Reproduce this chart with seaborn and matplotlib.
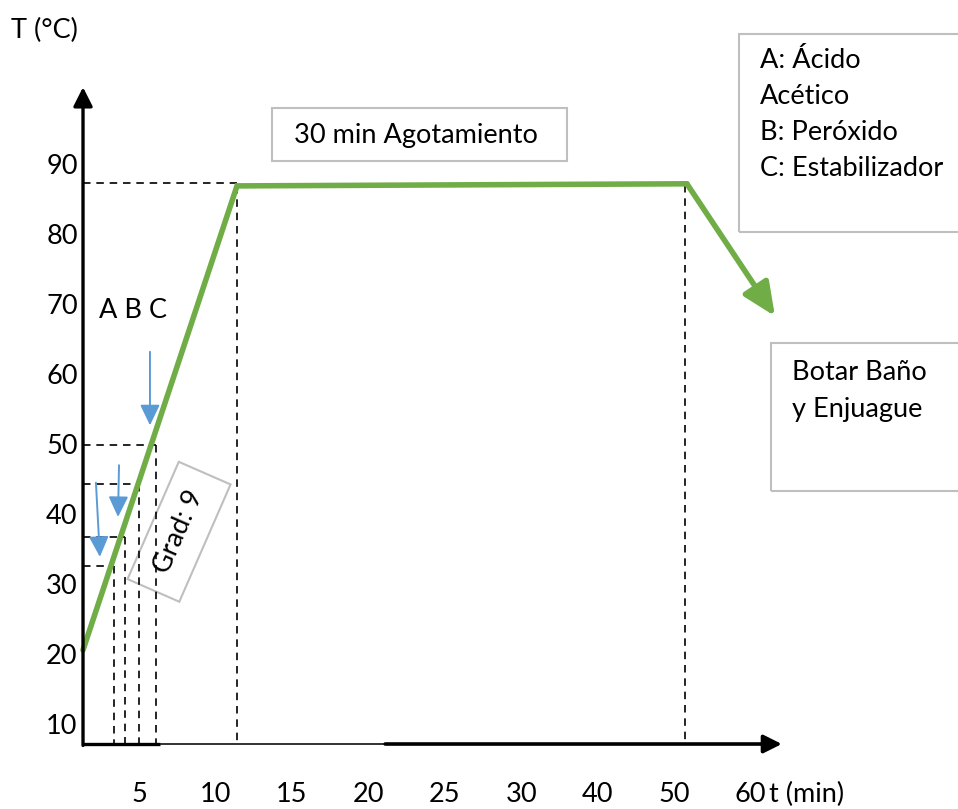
import matplotlib
matplotlib.use("Agg")
import matplotlib.pyplot as plt
import matplotlib.transforms as mtransforms
from matplotlib.patches import Rectangle
import seaborn as sns
import pandas as pd

# ---- data -------------------------------------------------------------
# x positions are expressed in "tick slots": slot i sits under the i-th time label
time_labels = ["5", "10", "15", "20", "25", "30", "40", "50", "60"]
temp_labels = [10, 20, 30, 40, 50, 60, 70, 80, 90]

# bath temperature profile (slot, °C); last point is the drain arrow tip
profile_slot = [0.237, 2.252, 8.138, 9.29]
profile_temp = [21.0, 87.3, 87.6, 68.7]

# dosing of A, B, C during the heating ramp
dose_slot = [0.64, 0.78, 0.97, 1.19]
dose_temp = [33.0, 37.1, 44.7, 50.3]

# blue dosing arrows: start/end (slot, °C)
arrow_x0 = [1.113, 0.708, 0.406]
arrow_t0 = [63.6, 47.4, 44.9]
arrow_x1 = [1.113, 0.695, 0.458]
arrow_t1 = [53.1, 40.0, 34.3]

GREEN = "#70AD47"
BLUE = "#5B9BD5"
BOX = "#BFBFBF"
FS = 19.5

sns.set_theme(style="white")
plt.rcParams["font.family"] = ["Lato", "DejaVu Sans"]

W, H = 958, 809
fig = plt.figure(figsize=(W / 100, H / 100), dpi=100)
ax = fig.add_axes([0, 0, 1, 1])
ax.set_axis_off()

# scale: 76.43 px per slot (slot 0 at px 64.9), 7 px per °C (10 °C at px 727)
ax.set_xlim(-64.9 / 76.43, (W - 64.9) / 76.43)
ax.set_ylim(10 - (H - 727) / 7, 10 + 727 / 7)

x0 = profile_slot[0]
t_axis = 7.57

# ---- axes drawn as arrows --------------------------------------------
ax.annotate("", xy=(x0, 101.4), xytext=(x0, t_axis - 0.2),
            arrowprops=dict(arrowstyle="-|>,head_length=1.15,head_width=0.58",
                            mutation_scale=10, lw=2.4, color="black",
                            shrinkA=0, shrinkB=0))
ax.plot([x0, 1.244], [t_axis, t_axis], color="black", lw=2.4,
        solid_capstyle="butt")
ax.plot([1.244, 4.19], [t_axis, t_axis], color="#222222", lw=1.3,
        solid_capstyle="butt")
ax.annotate("", xy=(9.38, t_axis), xytext=(4.19, t_axis),
            arrowprops=dict(arrowstyle="-|>,head_length=1.1,head_width=0.55",
                            mutation_scale=10, lw=2.6, color="black",
                            shrinkA=0, shrinkB=0))

# ---- tick labels ------------------------------------------------------
for t in temp_labels:
    ax.text(x0 - 0.07, t, str(t), ha="right", va="center", fontsize=FS,
            color="black")
for i, lab in enumerate(time_labels, start=1):
    ax.text(i - 0.03, 0.3, lab, ha="center", va="center", fontsize=FS,
            color="black")
ax.text(9.21, 0.3, "t (min)", ha="left", va="center", fontsize=FS,
        color="black")
ax.text(0.012, 1 - 30 / H, "T (°C)", transform=ax.transAxes, ha="left",
        va="center", fontsize=FS, color="black")

# ---- dashed guide lines -----------------------------------------------
dash = dict(color="black", lw=1.2, linestyle=(0, (4.5, 3.5)))
for xs, ts in zip(dose_slot, dose_temp):
    ax.plot([x0, xs], [ts, ts], **dash)
    ax.plot([xs, xs], [ts, t_axis], **dash)
ax.plot([x0, profile_slot[1]], [profile_temp[1] + 0.4] * 2, **dash)
ax.plot([profile_slot[1]] * 2, [profile_temp[1], t_axis], **dash)
ax.plot([profile_slot[2] - 0.02] * 2, [profile_temp[2] - 0.2, t_axis + 0.5], **dash)

# ---- temperature profile ---------------------------------------------
df = pd.DataFrame({"slot": profile_slot, "temp": profile_temp})
sns.lineplot(data=df.iloc[:3], x="slot", y="temp", sort=False, color=GREEN,
             lw=4, ax=ax, legend=False)
ax.lines[-1].set_solid_joinstyle("miter")
ax.annotate("", xy=(profile_slot[3], profile_temp[3]),
            xytext=(profile_slot[2], profile_temp[2]),
            arrowprops=dict(arrowstyle="-|>,head_length=2.0,head_width=0.9",
                            mutation_scale=10, lw=4, color=GREEN,
                            shrinkA=0, shrinkB=0))

# ---- dosing arrows ----------------------------------------------------
for xa, ta, xb, tb in zip(arrow_x0, arrow_t0, arrow_x1, arrow_t1):
    ax.annotate("", xy=(xb, tb), xytext=(xa, ta),
                arrowprops=dict(arrowstyle="-|>,head_length=1.25,head_width=0.6",
                                mutation_scale=10, lw=1.4, color=BLUE,
                                shrinkA=0, shrinkB=0))
ax.text(133 / 76.43 - 64.9 / 76.43, 10 + (727 - 310) / 7, "A B C",
        ha="center", va="center", fontsize=FS, color="black")

# ---- annotation boxes -------------------------------------------------
def box(px0, py0, px1, py1):
    ax.add_patch(Rectangle((px0 / W, 1 - py1 / H), (px1 - px0) / W,
                           (py1 - py0) / H, transform=ax.transAxes,
                           fill=False, edgecolor=BOX, lw=1.5, clip_on=False))

box(272, 108, 567, 161)
ax.text(416 / W, 1 - 136 / H, "30 min Agotamiento", transform=ax.transAxes,
        ha="center", va="center", fontsize=FS, color="black")

box(739, 34, 965, 232)
for k, line in enumerate(["A: Ácido", "Acético", "B: Peróxido",
                          "C: Estabilizador"]):
    ax.text(760 / W, 1 - (61 + 36 * k) / H, line, transform=ax.transAxes,
            ha="left", va="center", fontsize=FS, color="black")

box(771, 343, 965, 491)
for k, line in enumerate(["Botar Baño", "y Enjuague"]):
    ax.text(792 / W, 1 - (372 + 37 * k) / H, line, transform=ax.transAxes,
            ha="left", va="center", fontsize=FS, color="black")

# rotated gradient box
cx, cy = 1.79, (H - 531.75) / 100
rot = mtransforms.Affine2D().rotate_deg_around(cx, cy, 66.4) + fig.dpi_scale_trans
ax.add_patch(Rectangle((cx - 0.64, cy - 0.283), 1.28, 0.565, transform=rot,
                       fill=False, edgecolor=BOX, lw=1.5, clip_on=False))
ax.text(cx, cy, "Grad: 9", transform=fig.dpi_scale_trans, rotation=66.4,
        rotation_mode="anchor", ha="center", va="center", fontsize=FS,
        color="black")

fig.savefig("out.png", dpi=100)
